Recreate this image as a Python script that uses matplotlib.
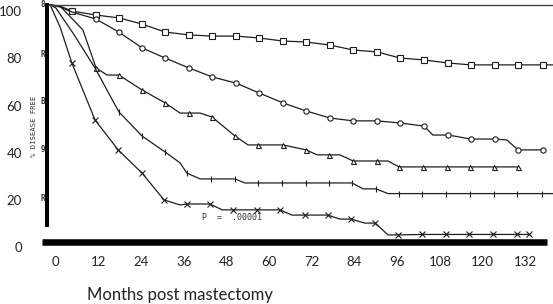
import numpy as np
import matplotlib
matplotlib.use('Agg')
from matplotlib import pyplot as plt

# curves (x = months, y = % disease free)
sq_months = [-1.5, 1.3, 4.6, 11.4, 17.8, 24.3, 30.8, 37.5, 44.0, 50.7, 57.2, 63.9, 70.4, 77.1,
             83.6, 90.3, 96.8, 103.5, 110.3, 116.7, 123.5, 129.9, 136.9, 139.8]
sq_vals = [102.6, 102.1, 100.0, 98.3, 97.1, 94.5, 91.1, 89.9, 89.4, 89.4, 88.6, 87.3, 86.9, 85.6,
           83.5, 82.7, 80.1, 79.3, 78.0, 77.2, 77.2, 77.2, 77.2, 77.2]
sq_marks = list(range(2, 23))

ci_months = [-1.5, 1.3, 4.6, 11.4, 17.8, 24.3, 30.8, 37.5, 44.0, 50.7, 57.2, 63.9, 70.4, 77.1,
             83.6, 90.3, 96.8, 103.5, 106.0, 110.3, 116.7, 123.5, 126.8, 129.9, 136.9]
ci_vals = [102.6, 101.7, 99.6, 96.6, 91.1, 84.4, 80.1, 75.9, 72.1, 69.5, 65.3, 61.1, 57.7, 54.7,
           53.5, 53.5, 52.6, 51.3, 47.5, 47.5, 45.8, 45.8, 45.4, 41.2, 41.2]
ci_marks = list(range(3, 18)) + [19, 20, 21, 23, 24]

tri_months = [-1.5, 1.3, 7.7, 11.4, 14.5, 17.8, 24.3, 30.8, 35.0, 37.5, 40.6, 44.0, 50.4, 54.1,
              56.9, 63.9, 70.4, 73.5, 76.8, 79.9, 83.6, 90.3, 93.4, 96.5, 103.2, 110.0, 116.4,
              123.2, 129.9]
tri_vals = [102.6, 102.1, 92.0, 75.9, 72.9, 72.9, 66.6, 61.1, 56.8, 56.8, 56.8, 55.1, 47.1, 43.3,
            43.3, 43.3, 41.2, 39.1, 39.1, 39.1, 36.5, 36.5, 36.5, 34.0, 34.0, 34.0, 34.0, 34.0, 34.0]
tri_marks = [3, 5, 6, 7, 9, 11, 12, 14, 15, 16, 18, 20, 21, 23, 24, 25, 26, 27, 28]

plus_months = [-1.5, 0.1, 4.9, 11.1, 17.8, 24.3, 30.8, 35.0, 36.9, 40.6, 43.7, 50.4, 53.2, 56.9,
               63.6, 70.4, 76.8, 83.3, 86.4, 90.0, 93.4, 96.5, 102.9, 109.7, 116.4, 123.2, 129.6,
               136.7, 139.8]
plus_vals = [102.6, 101.3, 90.7, 75.9, 57.3, 47.1, 40.3, 35.7, 31.4, 28.9, 28.9, 28.9, 27.2, 27.2,
             27.2, 27.2, 27.2, 27.2, 24.7, 24.7, 22.7, 22.7, 22.7, 22.7, 22.7, 22.7, 22.7, 22.7, 22.7]
plus_marks = [4, 5, 6, 8, 10, 11, 13, 14, 15, 16, 17, 19, 21, 22, 23, 24, 25, 26, 27]

x_months = [-1.5, 1.3, 4.6, 11.1, 17.6, 24.3, 30.5, 35.0, 36.9, 43.4, 46.8, 49.9, 56.6, 63.1,
            66.4, 70.1, 76.5, 79.9, 83.0, 86.9, 89.8, 93.4, 96.2, 102.9, 109.7, 116.2, 122.9,
            129.6, 133.0]
x_vals = [102.6, 93.2, 78.0, 53.9, 41.2, 31.4, 20.0, 17.9, 18.3, 18.3, 15.8, 15.8, 15.8, 15.8,
          13.6, 13.6, 13.6, 11.9, 11.9, 10.2, 10.2, 5.2, 5.2, 5.4, 5.4, 5.4, 5.4, 5.4, 5.4]
x_marks = [2, 3, 4, 5, 6, 8, 9, 11, 12, 13, 15, 16, 18, 20, 22, 23, 24, 25, 26, 27, 28]

xticks = [0, 12, 24, 36, 48, 60, 72, 84, 96, 108, 120, 132]
yticks = [0, 20, 40, 60, 80, 100]

# bits of the scanned frame (cut-off tick labels of the original)
scan_glyphs = ['8', 'R', 'B', '9', 'R']
scan_glyph_vals = [102.6, 81.4, 61.5, 41.2, 20.8]

fig = plt.figure(figsize=(5.53, 3.04), dpi=100)
ax = fig.add_axes([40/553, 54/304, 513/553, 250/304])
ax.set_xlim(-4.35, 139.75)
ax.set_ylim(-1.19, 104.68)

line_kw = dict(color='#1e1e1e', lw=0.9, markerfacecolor='white', markeredgecolor='#1e1e1e',
               markeredgewidth=0.8, clip_on=False)
ax.plot(sq_months, sq_vals, marker='s', ms=3.8, markevery=sq_marks, **line_kw)
ax.plot(ci_months, ci_vals, marker='o', ms=3.8, markevery=ci_marks, **line_kw)
ax.plot(tri_months, tri_vals, marker='^', ms=3.6, markevery=tri_marks, **line_kw)
ax.plot(plus_months, plus_vals, marker='|', ms=4, markevery=plus_marks, **line_kw)
ax.plot(x_months, x_vals, marker='x', ms=3.8, markevery=x_marks, **line_kw)

# frame of the scan: thin top line, thick left and bottom bars
ax.plot([-1.5, 139.75], [102.6, 102.6], color='#444444', lw=1.0, clip_on=False)
ax.plot([-2.4, -2.4], [8.6, 103.4], color='black', lw=2.9, solid_capstyle='butt', clip_on=False)
ax.plot([-3.8, 138.0], [2.2, 2.2], color='black', lw=4.7, solid_capstyle='butt', clip_on=False)

for g, v in zip(scan_glyphs, scan_glyph_vals):
    ax.text(-3.55, v, g, fontsize=5.5, family='DejaVu Sans Mono', fontweight='bold',
            color='#333333', ha='center', va='center', clip_on=False)

ax.text(49.6, 12.4, 'P  =  .00001', fontsize=6, family='DejaVu Sans Mono', color='#333333',
        ha='center', va='center')
fig.text(34/553, 1 - 126/304, '% DISEASE FREE', rotation=90, fontsize=5.2,
         family='DejaVu Sans Mono', color='#333333', ha='center', va='center')

ax.set_xticks(xticks)
ax.set_yticks(yticks)
ax.tick_params(axis='both', length=0, labelcolor='#222222')
ax.tick_params(axis='x', pad=4, labelsize=9.5)
ax.tick_params(axis='y', pad=13, labelsize=9.5)
for lab in ax.get_xticklabels() + ax.get_yticklabels():
    lab.set_family('Lato')
for s in ax.spines.values():
    s.set_visible(False)

fig.text(87/553, 4/304, 'Months post mastectomy', fontsize=12, family='Lato', color='#222222',
         ha='left', va='baseline')

plt.savefig('out.png', dpi=100)
